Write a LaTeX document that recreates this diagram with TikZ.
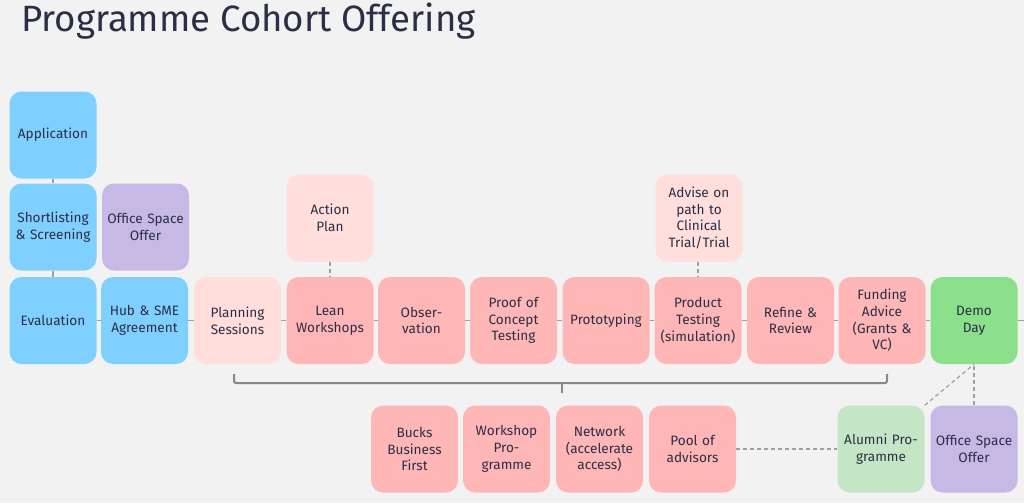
\documentclass[tikz,border=0pt]{standalone}
\usepackage{fontspec}
\setmainfont{Fira Sans}
\begin{document}
\begin{tikzpicture}[x=1pt,y=-1pt,
  card/.style={rectangle, rounded corners=12pt, minimum width=87pt, minimum height=87pt, inner sep=0pt,
    text width=86pt, align=center, font=\fontsize{13.6}{16.7}\selectfont, text=navy},
  blue/.style={card, fill=cblue},
  purple/.style={card, fill=cpurple},
  lpink/.style={card, fill=clpink},
  pink/.style={card, fill=cpink},
  green/.style={card, fill=cgreen},
  lgreen/.style={card, fill=clgreen},
  link/.style={draw=lgrey, line width=1.2pt},
  dlink/.style={draw=lgrey, line width=1.2pt, dash pattern=on 4pt off 3pt},
  brace/.style={draw=lgrey!85!black, line width=2pt},
]
\definecolor{navy}{HTML}{2A2F45}
\definecolor{cblue}{HTML}{80D0FF}
\definecolor{cpurple}{HTML}{C6B9E6}
\definecolor{clpink}{HTML}{FFDEDC}
\definecolor{cpink}{HTML}{FFB6B6}
\definecolor{cgreen}{HTML}{8CE08C}
\definecolor{clgreen}{HTML}{C4E6C4}
\definecolor{lgrey}{HTML}{A0A0A0}
\definecolor{bgc}{HTML}{F2F2F2}
\useasboundingbox[fill=bgc] (0,0) rectangle (1024,503);
\node[anchor=west, font=\fontsize{36.6}{42}\selectfont, text=navy, inner sep=0pt] (title) at (21,21) {Programme Cohort Offering};

\node[blue] (app) at (53,135) {Application};
\node[blue] (short) at (53,227) {Shortlisting\\\& Screening};
\node[blue] (eval) at (53,320.5) {Evaluation};
\node[purple] (off1) at (145.5,227) {Office Space\\Offer};
\node[blue] (hub) at (144.5,320.5) {Hub \& SME\\Agreement};
\node[lpink] (plan) at (237.5,320.5) {Planning\\Sessions};
\node[pink] (lean) at (330,320.5) {Lean\\Workshops};
\node[lpink] (act) at (330,218) {Action\\Plan};
\node[pink] (obs) at (421.5,320.5) {Obser-\\vation};
\node[pink] (poc) at (513.5,320.5) {Proof of\\Concept\\Testing};
\node[pink] (proto) at (606,320.5) {Prototyping};
\node[pink] (prod) at (698,320.5) {Product\\Testing\\(simulation)};
\node[lpink] (adv) at (699,218) {Advise on\\path to\\Clinical\\Trial/Trial};
\node[pink] (ref) at (790.5,320.5) {Refine \&\\Review};
\node[pink] (fund) at (882,320.5) {Funding\\Advice\\(Grants \&\\VC)};
\node[green] (demo) at (974,320.5) {Demo\\Day};
\coordinate (edge) at (1024,320.5);

\node[pink] (bucks) at (414.5,449) {Bucks\\Business\\First};
\node[pink] (wsp) at (506.5,449) {Workshop\\Pro-\\gramme};
\node[pink] (net) at (599.5,449) {Network\\(accelerate\\access)};
\node[pink] (pool) at (692.5,449) {Pool of\\advisors};
\node[lgreen] (alum) at (881,449) {Alumni Pro-\\gramme};
\node[purple] (off2) at (974,449) {Office Space\\Offer};

\draw[link] (app) -- (short);
\draw[link] (short) -- (eval);
\draw[link] (eval) -- (hub);
\draw[link] (hub) -- (plan);
\draw[link] (plan) -- (lean);
\draw[link] (lean) -- (obs);
\draw[link] (obs) -- (poc);
\draw[link] (poc) -- (proto);
\draw[link] (proto) -- (prod);
\draw[link] (prod) -- (ref);
\draw[link] (ref) -- (fund);
\draw[link] (fund) -- (demo);
\draw[link] (demo) -- (edge);
\draw[dlink] (act) -- (lean);
\draw[dlink] (adv.south -| prod.north) -- (prod);
\draw[dlink] (pool) -- (alum);
\draw[dlink] (alum.north east) -- (demo.south);
\draw[dlink] (off2.north) -- (off2.north |- demo.south);

\coordinate (bl) at (234,374);
\coordinate (br) at (887,374);
\coordinate (bb) at (562,383);
\coordinate (bm) at (562,393);
\draw[brace, rounded corners=2pt] (bl) |- (bb) -| (br);
\draw[brace] (bb) -- (bm);
\end{tikzpicture}
\end{document}
